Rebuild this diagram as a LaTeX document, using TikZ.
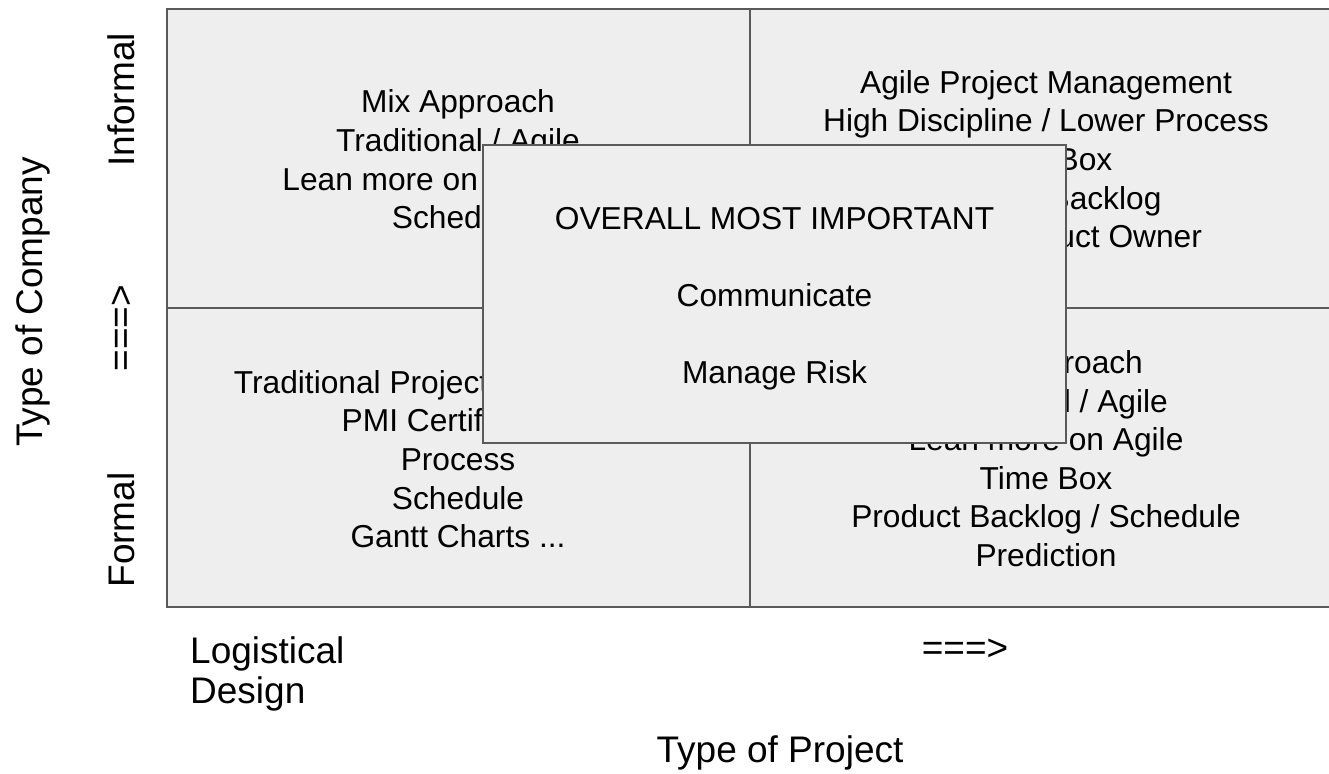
\documentclass[tikz,border=0pt]{standalone}
\usepackage{fontspec}
\setmainfont{Liberation Sans}
\definecolor{boxfill}{HTML}{EEEEEE}
\definecolor{boxline}{HTML}{5A5A5A}
\begin{document}
\begin{tikzpicture}[x=1pt,y=-1pt,
  quad/.style={draw=boxline, fill=boxfill, line width=2pt, inner sep=0pt},
  body/.style={font=\fontsize{31.7}{38.6}\selectfont, anchor=base, inner sep=0pt, text=black},
  lab/.style={font=\fontsize{37}{40}\selectfont, inner sep=0pt, text=black}]
\useasboundingbox (0,0) rectangle (1329,773);
\clip (0,0) rectangle (1329,773);
\fill[white] (0,0) rectangle (1329,773);
% quadrants
\node[quad, minimum width=583.3pt, minimum height=298.7pt] (qtl) at (458.35,158.35) {};
\node[quad, minimum width=590pt, minimum height=298.7pt] (qtr) at (1045,158.35) {};
\node[quad, minimum width=583.3pt, minimum height=299.3pt] (qbl) at (458.35,457.35) {};
\node[quad, minimum width=590pt, minimum height=299.3pt] (qbr) at (1045,457.35) {};
% top-left text
\node[body] (tl1) at (458,112.7) {Mix Approach};
\node[body] (tl2) at (458,151.3) {Traditional / Agile};
\node[body] (tl3) at (458,190.0) {Lean more on Traditional};
\node[body] (tl4) at (458,228.6) {Schedule};
% top-right text
\node[body] (tr1) at (1046,93.3) {Agile Project Management};
\node[body] (tr2) at (1046,131.9) {High Discipline / Lower Process};
\node[body] (tr3) at (1046,170.5) {Time Box};
\node[body] (tr4) at (1046,209.1) {Product Backlog};
\node[body] (tr5) at (1046,247.7) {Scrum Product Owner};
% bottom-left text
\node[body] (bl1) at (458,393.3) {Traditional Project Management};
\node[body] (bl2) at (458,431.9) {PMI Certification};
\node[body] (bl3) at (458,470.5) {Process};
\node[body] (bl4) at (458,509.1) {Schedule};
\node[body] (bl5) at (458,547.7) {Gantt Charts ...};
% bottom-right text
\node[body] (br1) at (1046,373.5) {Mix Approach};
\node[body] (br2) at (1046,412.1) {Traditional / Agile};
\node[body] (br3) at (1046,450.7) {Lean more on Agile};
\node[body] (br4) at (1046,489.3) {Time Box};
\node[body] (br5) at (1046,527.9) {Product Backlog / Schedule};
\node[body] (br6) at (1046,566.5) {Prediction};
% centre box
\node[quad, minimum width=583pt, minimum height=298pt] (mid) at (774.5,293.7) {};
\node[body] (m1) at (774.5,229.7) {OVERALL MOST IMPORTANT};
\node[body] (m2) at (774.5,306.7) {Communicate};
\node[body] (m3) at (774.5,383.7) {Manage Risk};
% axis labels
\node[lab, rotate=90] (ycomp) at (33,302) {Type of Company};
\node[lab, rotate=90] (yinf) at (121,100) {Informal};
\node[lab, rotate=90] (yarr) at (123,328) {===>};
\node[lab, rotate=90] (yfor) at (121,530) {Formal};
\node[lab, anchor=base west] (xlog) at (190,663) {Logistical};
\node[lab, anchor=base west] (xdes) at (190,703) {Design};
\node[lab, anchor=base] (xarr) at (965,660) {===>};
\node[lab, anchor=base] (xproj) at (780,762) {Type of Project};
\end{tikzpicture}
\end{document}
